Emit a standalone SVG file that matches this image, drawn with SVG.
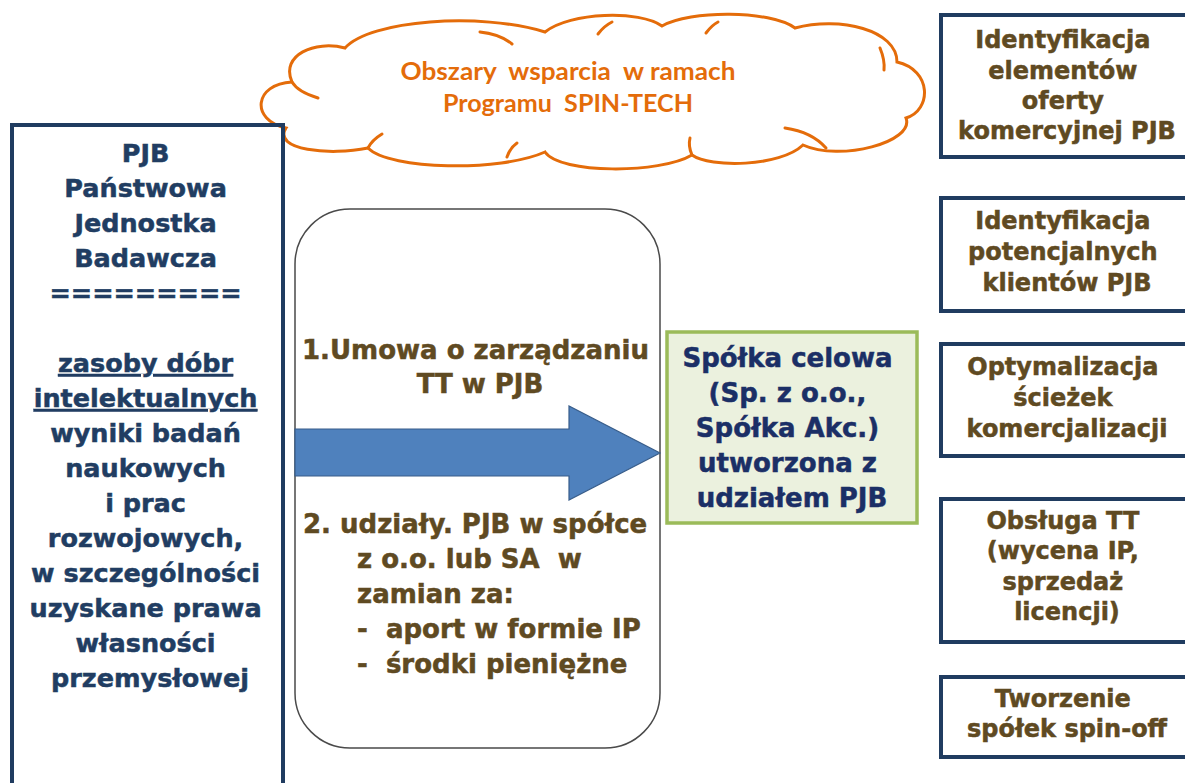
<svg xmlns="http://www.w3.org/2000/svg" width="1185" height="783" viewBox="0 0 1185 783">
<style>
.nv{fill:none;stroke:#203C60;stroke-width:4}
.t{font-family:"DejaVu Sans",Verdana,sans-serif;font-weight:bold;text-anchor:middle;stroke-width:0.5}
.navy{fill:#213D62;stroke:#213D62}
.brown{fill:#5F4A22;stroke:#5F4A22}
.dblue{fill:#1B2F66;stroke:#1B2F66}
.cl{fill:none;stroke:#E46C0A;stroke-width:3;stroke-linecap:round}
.ct{font-family:Lato,"Open Sans",sans-serif;font-weight:bold;fill:#E46C0A;text-anchor:middle;font-size:25px}
</style>
<rect width="1185" height="783" fill="#fff"/>

<g id="cloud">
<path class="cl" style="fill:#fff" d="M292 82 C280 55 315 40 345 48 C370 20 480 12 545 32 C570 12 640 10 662 26 C690 10 770 10 795 28 C840 16 897 30 897 62 C932 70 932 110 906 118 C915 142 840 162 803 145 C780 167 710 168 692 155 C660 174 560 174 545 152 C500 172 390 170 368 148 C330 156 272 150 286 128 C250 120 254 84 292 82 Z"/>
<path class="cl" d="M318 98 Q298 92 292 82"/>
<path class="cl" d="M480 32 Q500 34 512 44"/>
<path class="cl" d="M598 34 Q604 26 612 22"/>
<path class="cl" d="M706 33 Q712 25 718 22"/>
<path class="cl" d="M880 48 Q885 60 884 70"/>
<path class="cl" d="M785 128 Q812 132 826 148"/>
<path class="cl" d="M692 155 Q688 146 690 138"/>
<path class="cl" d="M507 157 Q510 148 517 143"/>
<path class="cl" d="M368 148 Q372 140 382 134"/>
<text class="ct" x="568" y="80" textLength="335" lengthAdjust="spacingAndGlyphs" xml:space="preserve">Obszary  wsparcia  w ramach</text>
<text class="ct" x="568" y="112" textLength="250" lengthAdjust="spacingAndGlyphs" xml:space="preserve">Programu  SPIN-TECH</text>
</g>

<g id="pjb">
<rect class="nv" x="12" y="125" width="271" height="680"/>
<text class="t navy" font-size="25.5">
<tspan x="150" y="162">PJB</tspan>
<tspan x="150" y="197">Państwowa</tspan>
<tspan x="150" y="232">Jednostka</tspan>
<tspan x="150" y="267">Badawcza</tspan>
<tspan x="150" y="302">=========</tspan>
<tspan x="150" y="372" text-decoration="underline">zasoby dóbr</tspan>
<tspan x="150" y="407" text-decoration="underline">intelektualnych</tspan>
<tspan x="150" y="442">wyniki badań</tspan>
<tspan x="150" y="477">naukowych</tspan>
<tspan x="150" y="512">i prac</tspan>
<tspan x="150" y="547">rozwojowych,</tspan>
<tspan x="150" y="582">w szczególności</tspan>
<tspan x="150" y="617">uzyskane prawa</tspan>
<tspan x="150" y="652">własności</tspan>
<tspan x="150" y="687">przemysłowej</tspan>
</text>
</g>

<g id="middle">
<rect x="295" y="209" width="365" height="539" rx="55" ry="55" fill="#fff" stroke="#4A4A4A" stroke-width="1.5"/>
</g>

<g id="connectors">
<polygon points="295,429 569,429 569,406 660,453 569,500 569,476 295,476" fill="#4F81BD" stroke="#385D8A" stroke-width="1.2"/>
</g>

<g id="middle-text">
<text class="t brown" font-size="26">
<tspan x="480" y="359">1.Umowa o zarządzaniu</tspan>
<tspan x="480" y="393">TT w PJB</tspan>
</text>
<text class="t brown" font-size="26" style="text-anchor:start">
<tspan x="303" y="533">2. udziały. PJB w spółce</tspan>
<tspan x="357" y="568" xml:space="preserve">z o.o. lub SA  w</tspan>
<tspan x="357" y="603">zamian za:</tspan>
<tspan x="357" y="638" xml:space="preserve">-  aport w formie IP</tspan>
<tspan x="357" y="673" xml:space="preserve">-  środki pieniężne</tspan>
</text>
</g>

<g id="spolka">
<rect x="667" y="332" width="250" height="191" fill="#EBF1DE" stroke="#9BBB59" stroke-width="3.5"/>
<text class="t dblue" font-size="26">
<tspan x="792" y="367">Spółka celowa</tspan>
<tspan x="792" y="402">(Sp. z o.o.,</tspan>
<tspan x="792" y="437">Spółka Akc.)</tspan>
<tspan x="792" y="472">utworzona z</tspan>
<tspan x="792" y="507">udziałem PJB</tspan>
</text>
</g>

<g id="box1">
<rect class="nv" x="941" y="15" width="260" height="142"/>
<text class="t brown" font-size="24">
<tspan x="1067" y="48">Identyfikacja</tspan>
<tspan x="1067" y="79">elementów</tspan>
<tspan x="1067" y="109">oferty</tspan>
<tspan x="1067" y="139">komercyjnej PJB</tspan>
</text>
</g>
<g id="box2">
<rect class="nv" x="941" y="198" width="260" height="113"/>
<text class="t brown" font-size="24">
<tspan x="1067" y="229">Identyfikacja</tspan>
<tspan x="1067" y="260">potencjalnych</tspan>
<tspan x="1067" y="291">klientów PJB</tspan>
</text>
</g>
<g id="box3">
<rect class="nv" x="941" y="344" width="260" height="112"/>
<text class="t brown" font-size="24">
<tspan x="1067" y="375">Optymalizacja</tspan>
<tspan x="1067" y="406">ścieżek</tspan>
<tspan x="1067" y="437">komercjalizacji</tspan>
</text>
</g>
<g id="box4">
<rect class="nv" x="941" y="499" width="260" height="143"/>
<text class="t brown" font-size="24">
<tspan x="1067" y="529">Obsługa TT</tspan>
<tspan x="1067" y="559">(wycena IP,</tspan>
<tspan x="1067" y="590">sprzedaż</tspan>
<tspan x="1067" y="620">licencji)</tspan>
</text>
</g>
<g id="box5">
<rect class="nv" x="941" y="677" width="260" height="80"/>
<text class="t brown" font-size="24">
<tspan x="1067" y="707">Tworzenie</tspan>
<tspan x="1067" y="737">spółek spin-off</tspan>
</text>
</g>
</svg>
